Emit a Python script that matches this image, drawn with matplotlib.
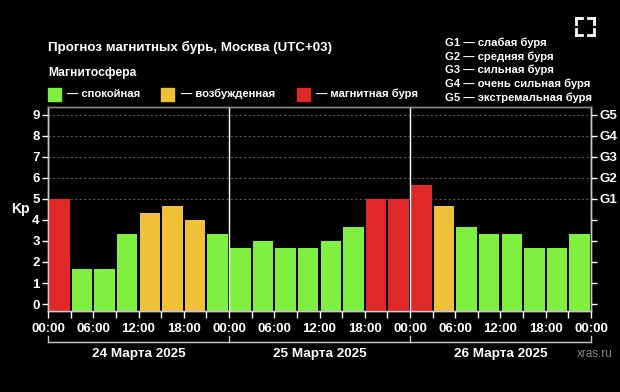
import matplotlib
matplotlib.use("Agg")
import matplotlib.pyplot as plt
import numpy as np
from matplotlib.patches import Rectangle
from matplotlib.lines import Line2D

plt.rcParams['font.family'] = ['Liberation Sans', 'DejaVu Sans']

# ---- data ----
kp_values = [5.0, 1.67, 1.67, 3.33, 4.33, 4.67, 4.0, 3.33,
             2.67, 3.0, 2.67, 2.67, 3.0, 3.67, 5.0, 5.0,
             5.67, 4.67, 3.67, 3.33, 3.33, 2.67, 2.67, 3.33]
levels = ['storm', 'quiet', 'quiet', 'quiet', 'active', 'active', 'active', 'quiet',
          'quiet', 'quiet', 'quiet', 'quiet', 'quiet', 'quiet', 'storm', 'storm',
          'storm', 'active', 'quiet', 'quiet', 'quiet', 'quiet', 'quiet', 'quiet']
hour_labels = ['00:00', '06:00', '12:00', '18:00'] * 3 + ['00:00']
day_labels = ['24 Марта 2025', '25 Марта 2025', '26 Марта 2025']
g_labels = ['G1', 'G2', 'G3', 'G4', 'G5']
g_desc = ['G1 — слабая буря', 'G2 — средняя буря', 'G3 — сильная буря',
          'G4 — очень сильная буря', 'G5 — экстремальная буря']
legend_labels = ['— спокойная', '— возбужденная', '— магнитная буря']

COL = {'quiet': '#80f040', 'active': '#f0c038', 'storm': '#e02828'}
W, H = 620, 392
YMIN, YMAX = -0.33, 9.37

def fx(px):
    return px / W

def fy(py):
    return 1 - py / H

fig = plt.figure(figsize=(W / 100, H / 100), dpi=100, facecolor='black')
ax = fig.add_axes([fx(48), fy(311), (591 - 48) / W, (311 - 107) / H])
ax.set_facecolor('black')

x = np.arange(len(kp_values)) * 3 + 1.5
vals = np.array(kp_values)
ax.bar(x, vals - YMIN, bottom=YMIN, width=2.72,
       color=[COL[l] for l in levels], zorder=3)

ax.set_xlim(0, 72)
ax.set_ylim(YMIN, YMAX)

# grid at G levels
for g in range(5, 10):
    ax.axhline(g, color='#555555', lw=0.8, ls=(0, (2, 2)), zorder=1)
for d in (24, 48):
    ax.axvline(d, color='white', lw=1.0, zorder=4)

ax.set_xticks(np.arange(0, 73, 6))
ax.set_xticklabels(hour_labels)
ax.set_xticks(np.arange(3, 72, 6), minor=True)
ax.tick_params(axis='x', which='both', colors='white', length=5, width=1,
               direction='out', labelsize=9.5, pad=4)
for t in ax.get_xticklabels():
    t.set_fontweight('bold')

ax.set_yticks(range(0, 10))
ax.set_yticklabels([str(i) for i in range(10)])
ax.tick_params(axis='y', colors='white', length=4, width=1, labelsize=9.5, pad=2)
for t in ax.get_yticklabels():
    t.set_fontweight('bold')

ax2 = ax.twinx()
ax2.set_ylim(YMIN, YMAX)
ax2.set_yticks(range(0, 10))
ax2.set_yticklabels([''] * 5 + g_labels)
ax2.tick_params(axis='y', colors='white', length=4, width=1, labelsize=9.5, pad=2)
for t in ax2.get_yticklabels():
    t.set_fontweight('bold')

for a in (ax, ax2):
    for s in a.spines.values():
        s.set_color('#cccccc')
        s.set_linewidth(1)
    a.spines['top'].set_color('#888888')

ax.set_ylabel('Kp', color='white', fontsize=10, fontweight='bold', rotation=0,
              va='center', ha='center')
ax.yaxis.set_label_coords((20 - 48) / 543, (4.5 - YMIN) / (YMAX - YMIN))

# date bracket
tr = ax.get_xaxis_transform()
yb = (311 - 342) / 204
yt = (311 - 336) / 204
ax.plot([0, 72], [yb, yb], color='#cccccc', lw=1, transform=tr, clip_on=False)
for d in (0, 24, 48, 72):
    ax.plot([d, d], [yb, yt], color='#cccccc', lw=1, transform=tr, clip_on=False)
for i, lab in enumerate(day_labels):
    ax.text(12 + 24 * i, (311 - 354) / 204, lab, transform=tr, color='white',
            fontsize=9.7, fontweight='bold', ha='center', va='center')

fig.text(fx(613), fy(354), 'xras.ru', color='#8a8a8a', fontsize=8.5,
         ha='right', va='center')

# titles
fig.text(fx(48), fy(47), 'Прогноз магнитных бурь, Москва (UTC+03)', color='white',
         fontsize=9.65, fontweight='bold', va='center', ha='left')
fig.text(fx(48), fy(73), 'Магнитосфера', color='white',
         fontsize=8.7, fontweight='bold', va='center', ha='left')

sq = [(48, 'quiet', 67), (161, 'active', 181), (297, 'storm', 316)]
for (sx, key, tx), lab in zip(sq, legend_labels):
    fig.patches.append(Rectangle((fx(sx), fy(101)), 13 / W, 13 / H,
                                 transform=fig.transFigure, color=COL[key]))
    fig.text(fx(tx), fy(94), lab, color='white', fontsize=8.1,
             fontweight='bold', va='center', ha='left')

for i, s in enumerate(g_desc):
    fig.text(fx(445), fy(43 + 13.6 * i), s, color='white', fontsize=8.1,
             fontweight='bold', va='center', ha='left')

# fullscreen icon
def seg(x0, y0, x1, y1):
    fig.add_artist(Line2D([fx(x0), fx(x1)], [fy(y0), fy(y1)], color='white',
                          lw=2, transform=fig.transFigure))
L, R, T, B, c = 576, 594, 18, 35, 6
seg(L, T + c, L, T); seg(L, T, L + c, T)
seg(R - c, T, R, T); seg(R, T, R, T + c)
seg(L, B - c, L, B); seg(L, B, L + c, B)
seg(R - c, B, R, B); seg(R, B, R, B - c)

fig.savefig('out.png', dpi=100, facecolor='black')
